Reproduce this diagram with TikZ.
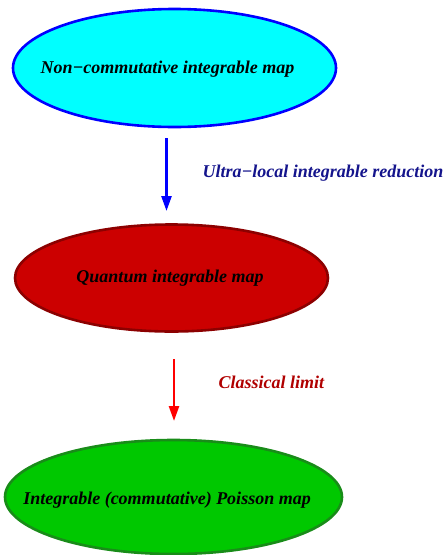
\documentclass[tikz,border=0pt]{standalone}
\usepackage{fontspec}
\setmainfont{Liberation Serif}
\usepackage{xcolor}
\usepackage{tikz}
\usetikzlibrary{shapes.geometric, arrows.meta}

\definecolor{ncfill}{RGB}{0,255,255}
\definecolor{ncdraw}{RGB}{0,0,255}
\definecolor{qfill}{RGB}{204,0,0}
\definecolor{qdraw}{RGB}{140,0,0}
\definecolor{pfill}{RGB}{0,200,0}
\definecolor{pdraw}{RGB}{25,140,25}
\definecolor{redlabel}{RGB}{176,0,0}
\definecolor{bluelabel}{RGB}{20,20,140}

\begin{document}
\begin{tikzpicture}[x=1pt, y=-1pt,
    mapbox/.style={ellipse, inner sep=0pt, line width=2.6pt},
    maptext/.style={font=\fontsize{18}{20}\selectfont\bfseries\itshape, text=black},
    steplabel/.style={font=\fontsize{18}{20}\selectfont\bfseries\itshape, anchor=west},
    steparrow/.style={line width=2.5pt, -{Triangle[length=15pt,width=10pt]}}]
    \useasboundingbox (0,0) rectangle (446,555);
    % the three maps
    \node[mapbox, draw=ncdraw, fill=ncfill, minimum width=323, minimum height=118] (noncomm) at (174.5,68) {};
    \node[maptext] at ([xshift=-7pt,yshift=-1pt]noncomm.center) {Non−commutative integrable map};
    \node[mapbox, draw=qdraw, fill=qfill, minimum width=313, minimum height=107] (quantum) at (171.5,278) {};
    \node[maptext] at ([xshift=-1.5pt]quantum.center) {Quantum integrable map};
    \node[mapbox, draw=pdraw, fill=pfill, minimum width=337, minimum height=114] (poisson) at (173.5,497) {};
    \node[maptext] at ([xshift=-6.5pt,yshift=-3pt]poisson.center) {Integrable (commutative) Poisson map};
    % reductions
    \coordinate (ultratop) at (166.5,138);
    \coordinate (ultratip) at (166.5,211);
    \draw[steparrow, ncdraw] (ultratop) -- (ultratip);
    \node[steplabel, bluelabel] at (199,173) {Ultra−local integrable reduction};
    \coordinate (classtop) at (174,359);
    \coordinate (classtip) at (174,421);
    \draw[steparrow, red] (classtop) -- (classtip);
    \node[steplabel, redlabel] at (215,382) {Classical limit};
\end{tikzpicture}
\end{document}
